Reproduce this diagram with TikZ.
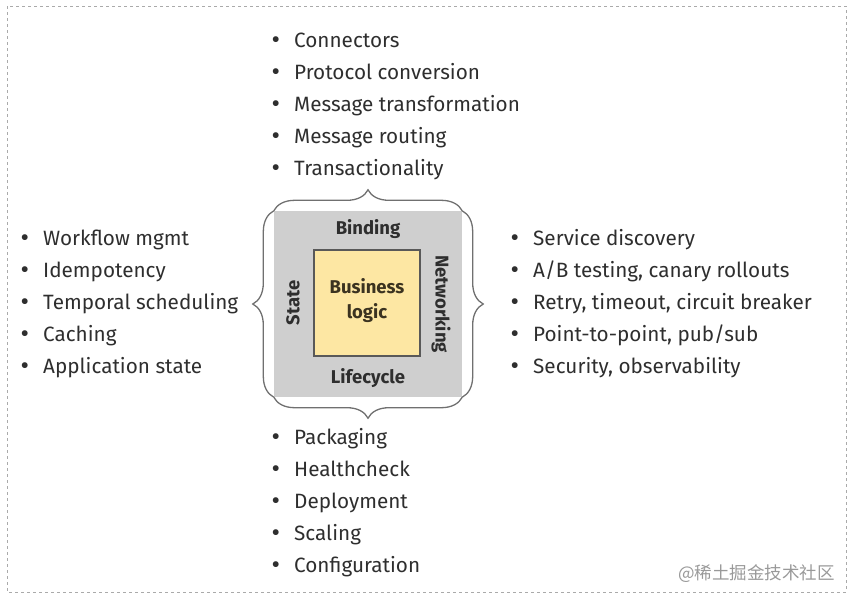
\documentclass[tikz,border=0pt]{standalone}
\usepackage{fontspec}
\setmainfont{Fira Sans}
\newfontfamily\cjk{Noto Sans CJK SC}
\usetikzlibrary{decorations.pathreplacing}
\definecolor{txt}{HTML}{2E2E2E}
\definecolor{coregray}{HTML}{CFCFCF}
\definecolor{bizyellow}{HTML}{FDE7A3}
\definecolor{bracegray}{HTML}{707070}
\definecolor{frame}{HTML}{AAAAAA}
\definecolor{biztxt}{HTML}{3B3320}
\begin{document}
\begin{tikzpicture}[x=1pt,y=-1pt,
  item/.style={anchor=base west,inner sep=0pt,text=txt,font=\fontsize{20.7}{20.7}\selectfont},
  lab/.style={inner sep=0pt,text=txt,font=\fontsize{18.5}{18.5}\selectfont\bfseries},
  bracedeco/.style={draw=bracegray,line width=1.3pt,decorate,decoration={brace,amplitude=21pt}}]
\useasboundingbox (0,0) rectangle (854,603);
\draw[frame,dashed,line width=0.6pt] (7,6) rectangle (846,592);
% core
\node[fill=coregray,minimum width=188pt,minimum height=186pt,inner sep=0pt] (core) at (368,304) {};
\node[fill=bizyellow,draw=black!65,line width=1.2pt,minimum width=106pt,minimum height=106pt,inner sep=0pt] (biz) at (367,303) {};
\node[lab,text=biztxt,anchor=base] (biz1) at (367,293) {Business};
\node[lab,text=biztxt,anchor=base] (biz2) at (367,318) {logic};
\node[lab,anchor=base] (binding) at (368,234) {Binding};
\node[lab,anchor=base] (lifecycle) at (368,383) {Lifecycle};
\node[lab,rotate=90] (state) at (293,303) {State};
\node[lab,rotate=-90] (networking) at (441,304) {Networking};
% braces
\draw[bracedeco] (core.north west) -- (core.north east);
\draw[bracedeco] (core.north east) -- (core.south east);
\draw[bracedeco] (core.south east) -- (core.south west);
\draw[bracedeco] (core.south west) -- (core.north west);
% lists
\newcommand{\bul}{\llap{\makebox[22.5pt][l]{\raisebox{-1pt}{\fontsize{26}{26}\selectfont\textbullet}}}}
\foreach \t [count=\i from 0] in {Connectors,Protocol conversion,Message transformation,Message routing,Transactionality}
  \node[item] (top\i) at (294,47+32*\i) {\bul\t};
\foreach \t [count=\i from 0] in {Workflow mgmt,Idempotency,Temporal scheduling,Caching,Application state}
  \node[item] (left\i) at (43,245+32*\i) {\bul\t};
\foreach \t [count=\i from 0] in {Service discovery,{A/B testing, canary rollouts},{Retry, timeout, circuit breaker},{Point-to-point, pub/sub},{Security, observability}}
  \node[item] (right\i) at (533,245+32*\i) {\bul\t};
\foreach \t [count=\i from 0] in {Packaging,Healthcheck,Deployment,Scaling,Configuration}
  \node[item] (bot\i) at (294,444+32*\i) {\bul\t};
\node[anchor=base east,inner sep=0pt,text=black!40,font=\cjk\fontsize{17.5}{17.5}\selectfont] (wm) at (835,579) {@稀土掘金技术社区};
\end{tikzpicture}
\end{document}
